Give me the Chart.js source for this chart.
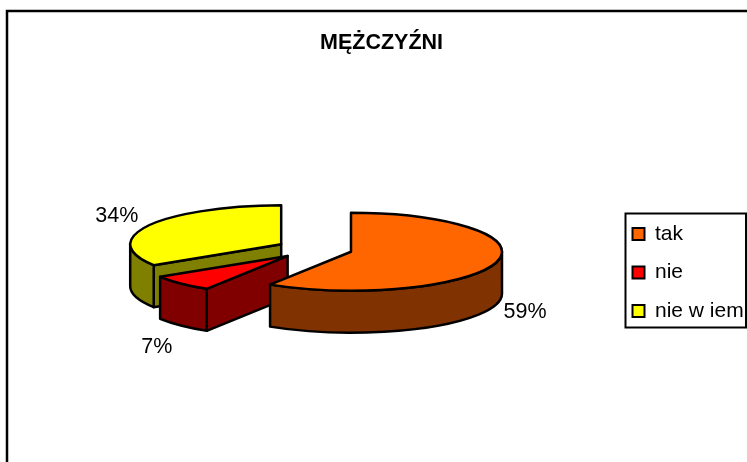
<!DOCTYPE html>
<html>
<head>
<meta charset="utf-8">
<script src="https://cdn.jsdelivr.net/npm/chart.js@4"></script>
<style>
  html, body { margin: 0; padding: 0; background: #fff; }
  canvas { display: block; }
</style>
</head>
<body>
<canvas id="pieChart" width="747" height="462"></canvas>
<script>
const categories = ['tak', 'nie', 'nie w iem'];
const values = [59, 7, 34];
const topColors = ['#FF6600', '#FF0000', '#FFFF00'];
const sideColors = ['#803300', '#800000', '#808000'];
const chartTitle = 'MĘŻCZYŹNI';

// fake 3D look: squash the circle, pull the slices apart, extrude downwards
const squash = 0.258;
const explode = 38;
const depth = 42;
const labelNudge = [[29, 49], [-24, 64], [-32, -9]];
const font = 'Liberation Sans, Arial, sans-serif';

function slicePath(ctx, cx, cy, rx, ry, a, b) {
  ctx.beginPath();
  ctx.moveTo(cx, cy);
  ctx.ellipse(cx, cy, rx, ry, 0, a, b);
  ctx.closePath();
}

function quad(ctx, x1, y1, x2, y2) {
  ctx.beginPath();
  ctx.moveTo(x1, y1);
  ctx.lineTo(x2, y2);
  ctx.lineTo(x2, y2 + depth);
  ctx.lineTo(x1, y1 + depth);
  ctx.closePath();
}

function drawSlice(ctx, arc, i) {
  const mid = (arc.startAngle + arc.endAngle) / 2;
  const rx = arc.outerRadius;
  const ry = rx * squash;
  const cx = arc.x + Math.cos(mid) * explode;
  const cy = arc.y + Math.sin(mid) * explode * squash;
  const a = arc.startAngle;
  const b = arc.endAngle;

  ctx.lineWidth = 2.5;
  ctx.lineJoin = 'round';
  ctx.strokeStyle = '#000';
  ctx.fillStyle = sideColors[i];

  // cut faces, only the ones turned towards the viewer
  if (Math.cos(a) < 0) {
    quad(ctx, cx, cy, cx + Math.cos(a) * rx, cy + Math.sin(a) * ry);
    ctx.fill();
    ctx.stroke();
  }
  if (Math.cos(b) > 0) {
    quad(ctx, cx, cy, cx + Math.cos(b) * rx, cy + Math.sin(b) * ry);
    ctx.fill();
    ctx.stroke();
  }

  // outer wall, only the part facing the viewer
  const wallStart = Math.max(a, 0);
  const wallEnd = Math.min(b, Math.PI);
  if (wallEnd > wallStart) {
    ctx.beginPath();
    ctx.ellipse(cx, cy, rx, ry, 0, wallStart, wallEnd);
    ctx.lineTo(cx + Math.cos(wallEnd) * rx, cy + Math.sin(wallEnd) * ry + depth);
    ctx.ellipse(cx, cy + depth, rx, ry, 0, wallEnd, wallStart, true);
    ctx.closePath();
    ctx.fill();
    ctx.stroke();
  }

  ctx.fillStyle = topColors[i];
  slicePath(ctx, cx, cy, rx, ry, a, b);
  ctx.fill();
  ctx.stroke();
}

const pie3d = {
  id: 'pie3d',
  beforeDraw(chart) {
    const ctx = chart.ctx;
    ctx.save();
    ctx.fillStyle = '#fff';
    ctx.fillRect(0, 0, chart.width, chart.height);
    // outer frame, runs off the picture on the right and bottom
    ctx.strokeStyle = '#000';
    ctx.lineWidth = 2.5;
    ctx.strokeRect(7, 11, 760, 480);
    ctx.restore();
  },
  afterLayout(chart) {
    // original has the plot, title and legend placed off-centre
    const area = chart.chartArea;
    area.left = 3; area.right = 626; area.width = 623;
    area.top = 60; area.bottom = 438; area.height = 378;
    chart.titleBlock.left += 8;
    chart.titleBlock.right += 8;
    const lg = chart.legend;
    const w = lg.right - lg.left;
    lg.left = 615; lg.right = 615 + w;
    // legend centres its rows between top and bottom, keep it tall so nothing wraps
    lg.top = 65; lg.bottom = 480;
  },
  beforeDatasetDraw(chart, args) {
    const ctx = chart.ctx;
    const arcs = args.meta.data;
    ctx.save();
    // back to front
    [2, 1, 0].forEach(i => drawSlice(ctx, arcs[i], i));

    ctx.fillStyle = '#000';
    ctx.font = '21.5px ' + font;
    ctx.textAlign = 'center';
    ctx.textBaseline = 'middle';
    arcs.forEach((arc, i) => {
      const mid = (arc.startAngle + arc.endAngle) / 2;
      const ex = arc.x + Math.cos(mid) * (explode + arc.outerRadius);
      const ey = arc.y + Math.sin(mid) * (explode + arc.outerRadius) * squash;
      ctx.fillText(values[i] + '%', ex + labelNudge[i][0], ey + labelNudge[i][1]);
    });
    ctx.restore();
    return false;
  },
  afterDraw(chart) {
    const ctx = chart.ctx;
    ctx.save();
    ctx.strokeStyle = '#000';
    ctx.lineWidth = 2;
    ctx.strokeRect(625.5, 213.5, 120.5, 114);
    ctx.restore();
  }
};

new Chart(document.getElementById('pieChart'), {
  type: 'pie',
  data: {
    labels: categories,
    datasets: [{
      data: values,
      radius: 151,
      backgroundColor: topColors,
      borderColor: '#000',
      borderWidth: 2
    }]
  },
  options: {
    responsive: false,
    animation: false,
    plugins: {
      title: {
        display: true,
        text: chartTitle,
        color: '#000',
        font: { family: font, size: 21.5, weight: 'bold' },
        padding: { top: 30, bottom: 6 }
      },
      legend: {
        position: 'right',
        labels: {
          color: '#000',
          boxWidth: 12,
          boxHeight: 12,
          padding: 17.5,
          font: { family: font, size: 21 }
        }
      },
      tooltip: { enabled: false }
    }
  },
  plugins: [pie3d]
});
</script>
</body>
</html>
